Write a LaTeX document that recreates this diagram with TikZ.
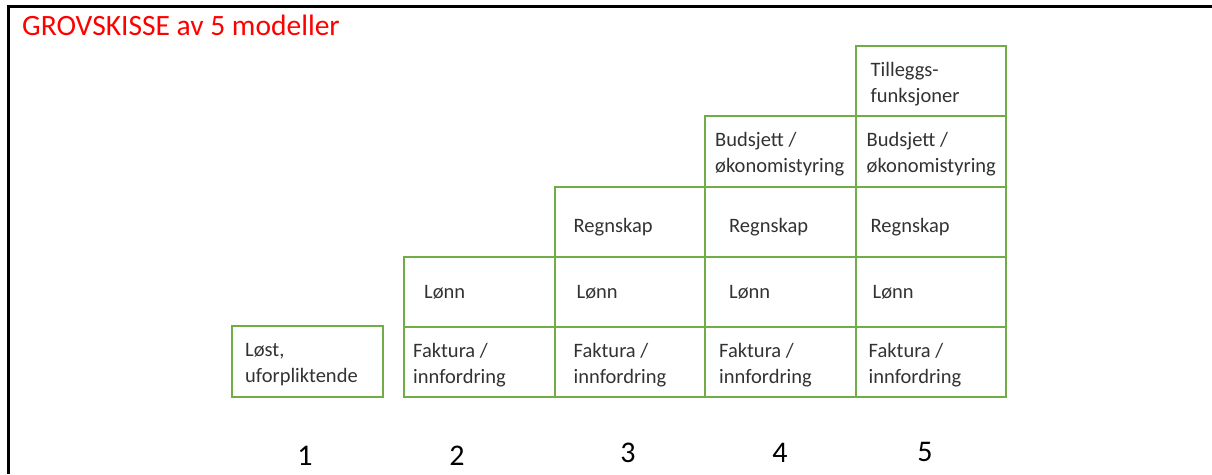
\documentclass[tikz,border=0pt]{standalone}
\usepackage{fontspec}
\setmainfont{Carlito}
\usetikzlibrary{positioning}
\definecolor{cellgreen}{RGB}{112,173,71}
\definecolor{celltext}{RGB}{50,50,50}

\begin{document}
\begin{tikzpicture}[x=1pt,y=-1pt,
  cell/.style={draw=cellgreen,line width=2pt,outer sep=0pt,inner sep=0pt,minimum width=150.5pt,minimum height=70.2pt},
  txt/.style={font=\fontsize{20.5}{26}\selectfont,text=celltext,align=left,inner sep=0pt},
  twoline/.style={txt,yshift=-3pt},
  num/.style={font=\fontsize{30}{36}\selectfont,text=black,inner sep=0pt}]
  \useasboundingbox (0,0) rectangle (1212,474);
  \draw[line width=3pt] (8.5,474) -- (8.5,6.5) -- (1212,6.5);
  \node[anchor=base west,text=red,font=\fontsize{29.5}{34}\selectfont,inner sep=0pt] (title) at (22,35) {GROVSKISSE av 5 modeller};

  % model 1
  \node[cell,minimum width=151pt,minimum height=71pt] (c1) at (307.5,361.5) {};
  \node[twoline,right=13pt of c1.west] (t1) {Løst,\\uforpliktende};
  % model 2
  \node[cell] (f2) at (479.25,362) {};
  \node[cell,above=0pt of f2] (l2) {};
  \node[twoline,right=9pt of f2.west] (tf2) {Faktura /\\innfordring};
  \node[txt,right=20pt of l2.west] (tl2) {Lønn};
  % model 3
  \node[cell,right=0pt of f2] (f3) {};
  \node[cell,above=0pt of f3] (l3) {};
  \node[cell,above=0pt of l3] (r3) {};
  \node[twoline,right=19pt of f3.west] (tf3) {Faktura /\\innfordring};
  \node[txt,right=22pt of l3.west] (tl3) {Lønn};
  \node[txt,right=19pt of r3.west,yshift=-5.5pt] (tr3) {Regnskap};
  % model 4
  \node[cell,right=0pt of f3] (f4) {};
  \node[cell,above=0pt of f4] (l4) {};
  \node[cell,above=0pt of l4] (r4) {};
  \node[cell,above=0pt of r4] (b4) {};
  \node[twoline,right=14pt of f4.west] (tf4) {Faktura /\\innfordring};
  \node[txt,right=24pt of l4.west] (tl4) {Lønn};
  \node[txt,right=24pt of r4.west,yshift=-5.5pt] (tr4) {Regnskap};
  \node[twoline,right=10pt of b4.west] (tb4) {Budsjett /\\økonomistyring};
  % model 5
  \node[cell,right=0pt of f4] (f5) {};
  \node[cell,above=0pt of f5] (l5) {};
  \node[cell,above=0pt of l5] (r5) {};
  \node[cell,above=0pt of r5] (b5) {};
  \node[cell,above=0pt of b5] (x5) {};
  \node[twoline,right=13pt of f5.west] (tf5) {Faktura /\\innfordring};
  \node[txt,right=17pt of l5.west] (tl5) {Lønn};
  \node[txt,right=15pt of r5.west,yshift=-5.5pt] (tr5) {Regnskap};
  \node[twoline,right=11pt of b5.west] (tb5) {Budsjett /\\økonomistyring};
  \node[twoline,right=15pt of x5.west] (tx5) {Tilleggs-\\funksjoner};

  % model numbers
  \node[num] (n1) at (305,456) {1};
  \node[num] (n2) at (457,456) {2};
  \node[num] (n3) at (628,453) {3};
  \node[num] (n4) at (780,453) {4};
  \node[num] (n5) at (925,452) {5};
\end{tikzpicture}
\end{document}
